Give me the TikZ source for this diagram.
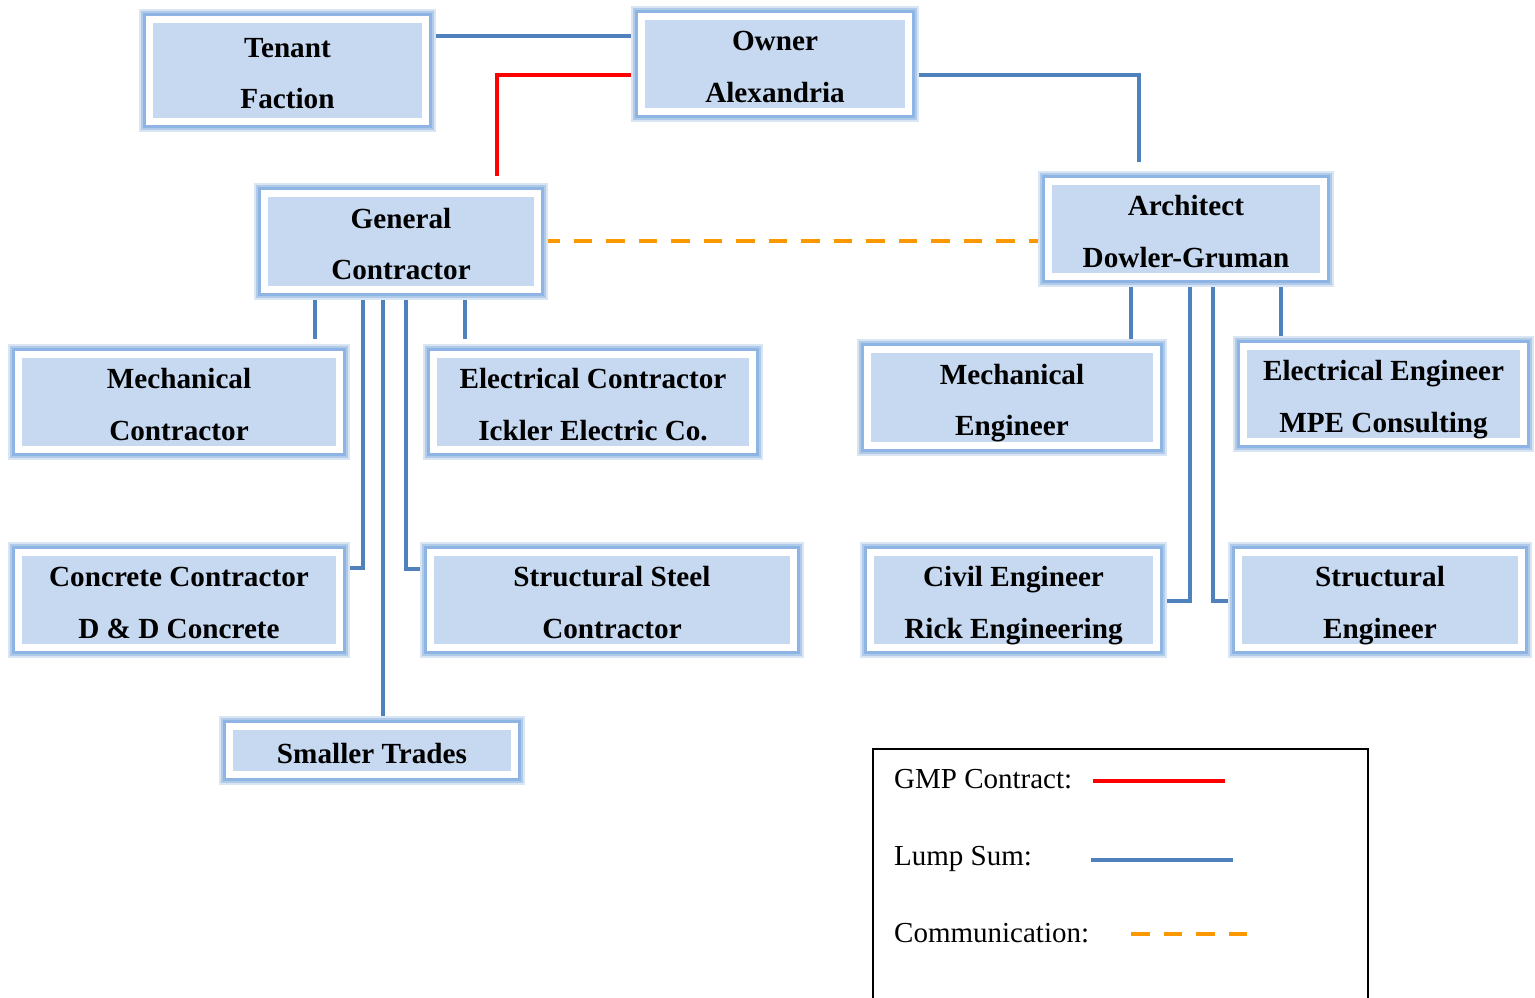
\documentclass[tikz,border=0pt]{standalone}
\usepackage{fontspec}
\setmainfont{Liberation Serif}
\usetikzlibrary{backgrounds,calc}
\definecolor{boxfill}{RGB}{198,217,241}
\definecolor{glow}{RGB}{142,180,227}
\definecolor{glowmid}{RGB}{176,202,234}
\definecolor{glowfaint}{RGB}{218,229,243}
\definecolor{lumpblue}{RGB}{79,129,189}
\definecolor{commorange}{RGB}{250,152,0}
\definecolor{gmpred}{RGB}{255,0,0}
\newcommand{\boxfont}{\fontsize{29.2}{51.5}\selectfont\bfseries}
\newcommand{\legfont}{\fontsize{29}{34}\selectfont}
\newcommand{\twol}[2]{\rule{0pt}{32pt}#1\\#2\rule[-7pt]{0pt}{7pt}}
\newcommand{\onel}[1]{\rule[-7pt]{0pt}{39pt}#1}
\tikzset{
  box/.style={rectangle, inner sep=0pt, align=center, font=\boxfont,
    fill=boxfill, draw=white, line width=7pt,
    preaction={draw=glowfaint, line width=21pt},
    preaction={draw=glowmid, line width=17pt},
    preaction={draw=glow, line width=13pt}},
  lump/.style={draw=lumpblue, line width=3.8pt},
  gmp/.style={draw=gmpred, line width=4pt},
  comm/.style={draw=commorange, line width=4.5pt, dash pattern=on 18.5pt off 14pt},
  legframe/.style={draw=black, line width=1.8pt},
  legtext/.style={anchor=base west, inner sep=0pt, font=\legfont},
}
\begin{document}
\begin{tikzpicture}[x=1pt,y=-1pt]
\useasboundingbox (0,0) rectangle (1535,998);
% boxes
\node[box, minimum width=276pt, minimum height=102pt] (tenant) at (287.5,70.5) {\twol{Tenant}{Faction}};
\node[box, minimum width=267pt, minimum height=95pt] (owner) at (775,64) {\twol{Owner}{Alexandria}};
\node[box, minimum width=273pt, minimum height=96pt] (gc) at (401,241.5) {\twol{General}{Contractor}};
\node[box, minimum width=275pt, minimum height=95pt] (arch) at (1186,229) {\twol{Architect}{Dowler-Gruman}};
\node[box, minimum width=321pt, minimum height=95pt] (mc) at (179,402) {\twol{Mechanical}{Contractor}};
\node[box, minimum width=319pt, minimum height=95pt] (ec) at (593,402) {\twol{Electrical Contractor}{Ickler Electric Co.}};
\node[box, minimum width=289pt, minimum height=96pt] (me) at (1012,397.5) {\twol{Mechanical}{Engineer}};
\node[box, minimum width=280pt, minimum height=95pt] (ee) at (1383.5,394) {\twol{Electrical Engineer}{MPE Consulting}};
\node[box, minimum width=321pt, minimum height=95pt] (cc) at (179,600) {\twol{Concrete Contractor}{D \& D Concrete}};
\node[box, minimum width=363pt, minimum height=95pt] (ss) at (612,600) {\twol{Structural Steel}{Contractor}};
\node[box, minimum width=286pt, minimum height=95pt] (ce) at (1013.5,600) {\twol{Civil Engineer}{Rick Engineering}};
\node[box, minimum width=283pt, minimum height=95pt] (se) at (1380,600) {\twol{Structural}{Engineer}};
\node[box, minimum width=285pt, minimum height=48pt] (st) at (372,750.5) {\onel{Smaller Trades}};
% helper coordinates
\coordinate (yTO) at (0,36);
\coordinate (yOA) at (0,75);
\coordinate (xRed) at (497,0);
\coordinate (xOA) at (1139,0);
\coordinate (yCom) at (0,241);
\coordinate (xA) at (315,0);
\coordinate (xB) at (363,0);
\coordinate (xC) at (383,0);
\coordinate (xD) at (406,0);
\coordinate (xE) at (465,0);
\coordinate (yCC) at (0,568);
\coordinate (ySS) at (0,569);
\coordinate (xF) at (1131,0);
\coordinate (xG) at (1190,0);
\coordinate (xH) at (1213,0);
\coordinate (xI) at (1281,0);
\coordinate (yEng) at (0,601);
\begin{scope}[on background layer]
\draw[lump] (tenant.center |- yTO) -- (owner.center |- yTO);
\draw[gmp] (owner.center |- yOA) -| ($(gc.north -| xRed)+(0,-14)$);
\draw[lump] (owner.center |- yOA) -| ($(arch.north -| xOA)+(0,-16.5)$);
\draw[comm] (gc.east |- yCom) -- (arch.west |- yCom);
\draw[lump] (gc.center -| xA) -- ($(mc.north -| xA)+(0,-12)$);
\draw[lump] (gc.center -| xE) -- ($(ec.north -| xE)+(0,-12)$);
\draw[lump] (gc.center -| xB) |- (cc.center |- yCC);
\draw[lump] (gc.center -| xC) -- (st.center -| xC);
\draw[lump] (gc.center -| xD) |- (ss.center |- ySS);
\draw[lump] (arch.center -| xF) -- (me.center -| xF);
\draw[lump] (arch.center -| xI) -- (ee.center -| xI);
\draw[lump] (arch.center -| xG) |- (ce.center |- yEng);
\draw[lump] (arch.center -| xH) |- (se.center |- yEng);
\end{scope}
% legend
\draw[legframe] (873,1010) -- (873,749) -- (1368,749) -- (1368,1010);
\node[legtext] (lg1) at (894,788) {GMP Contract:};
\node[legtext] (lg2) at (894,865) {Lump Sum:};
\node[legtext] (lg3) at (894,942) {Communication:};
\coordinate (r1) at (1093,780.5);
\coordinate (r2) at (1225,780.5);
\coordinate (b1) at (1091,860);
\coordinate (b2) at (1233,860);
\coordinate (o1) at (1131,934);
\coordinate (o2) at (1248,934);
\draw[gmp] (r1) -- (r2);
\draw[lump] (b1) -- (b2);
\draw[comm] (o1) -- (o2);
\end{tikzpicture}
\end{document}
